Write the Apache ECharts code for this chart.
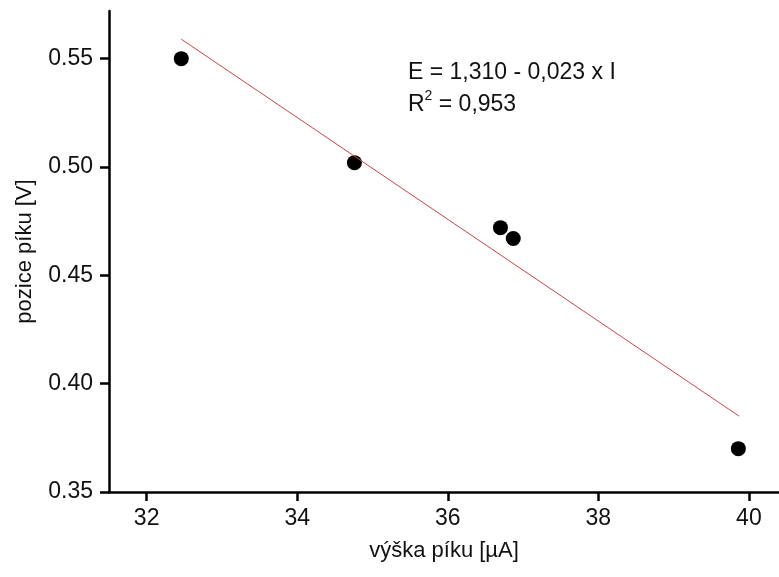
<!DOCTYPE html>
<html>
<head>
<meta charset="utf-8">
<script src="https://cdn.jsdelivr.net/npm/echarts@6/dist/echarts.min.js"></script>
<style>
  html, body { margin: 0; padding: 0; background: #fff; }
  #chart { width: 779px; height: 577px; }
</style>
</head>
<body>
<div id="chart"></div>
<script>
// measured points: peak height [uA] vs peak position [V]
const peakHeight = [32.46, 34.76, 36.70, 36.87, 39.86]
const peakPos = [0.550, 0.502, 0.472, 0.467, 0.370]
// fitted line end points as drawn
const fitX = [32.46, 39.87]
const fitY = [0.559, 0.385]
const xTicks = [32, 34, 36, 38, 40]
const yTicks = [0.35, 0.40, 0.45, 0.50, 0.55]
const fitText = 'E = 1,310 - 0,023 x I'
const r2Text = '0,953'

const font = 'Liberation Sans, Arial, sans-serif'
const txt = '#111'
const chart = echarts.init(document.getElementById('chart'))

chart.setOption({
  animation: false,
  grid: { left: 109, right: 0, top: 11, bottom: 85 },
  xAxis: {
    type: 'value',
    min: 31.5,
    max: 40.4,
    name: 'výška píku [µA]',
    nameLocation: 'middle',
    nameGap: 48,
    nameTextStyle: { color: txt, fontSize: 22, fontFamily: font },
    axisLine: { onZero: false, lineStyle: { color: '#000', width: 2.5 } },
    axisTick: { customValues: xTicks, length: 9, lineStyle: { color: '#000', width: 2.5 } },
    axisLabel: { customValues: xTicks, margin: 15, color: txt, fontSize: 23, fontFamily: font },
    splitLine: { show: false }
  },
  yAxis: {
    type: 'value',
    min: 0.35,
    max: 0.572,
    name: 'pozice píku [V]',
    nameLocation: 'middle',
    nameGap: 73,
    nameTextStyle: { color: txt, fontSize: 22, fontFamily: font },
    axisLine: { onZero: false, lineStyle: { color: '#000', width: 2.5 } },
    axisTick: { customValues: yTicks, length: 9, lineStyle: { color: '#000', width: 2.5 } },
    axisLabel: {
      customValues: yTicks,
      margin: 16,
      color: txt,
      fontSize: 23,
      fontFamily: font,
      formatter: v => v.toFixed(2)
    },
    splitLine: { show: false }
  },
  graphic: [
    {
      type: 'text',
      left: 408,
      top: 57,
      style: {
        text: fitText + '\n{r|R}{s|2}{r| = ' + r2Text + '}',
        font: '23px ' + font,
        fill: txt,
        lineHeight: 32,
        rich: {
          r: { fontSize: 23, fontFamily: font, fill: txt },
          s: { fontSize: 14, fontFamily: font, fill: txt, verticalAlign: 'top', padding: [0, 0, 10, 0] }
        }
      }
    }
  ],
  series: [
    {
      type: 'line',
      data: fitX.map((x, i) => [x, fitY[i]]),
      showSymbol: false,
      lineStyle: { color: '#c24848', width: 1 },
      silent: true
    },
    {
      type: 'scatter',
      data: peakHeight.map((x, i) => [x, peakPos[i]]),
      symbolSize: 15,
      itemStyle: { color: '#000', opacity: 1 }
    }
  ]
})
</script>
</body>
</html>
